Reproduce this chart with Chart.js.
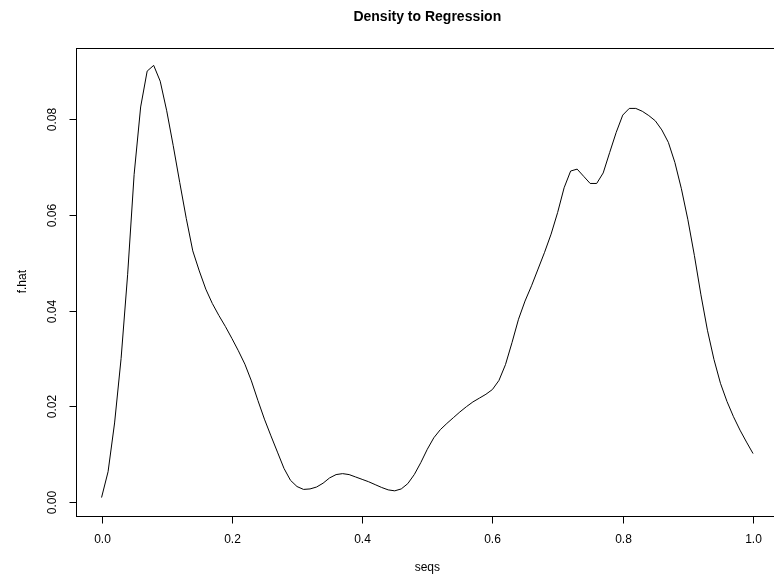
<!DOCTYPE html>
<html>
<head>
<meta charset="utf-8">
<title>Density to Regression</title>
<script src="https://cdn.jsdelivr.net/npm/chart.js@4.4.1/dist/chart.umd.min.js"></script>
<style>
  html, body { margin: 0; padding: 0; background: #fff; overflow: hidden; }
  #wrap { width: 800px; height: 575px; }
</style>
</head>
<body>
<div id="wrap"><canvas id="densityChart" width="800" height="575"></canvas></div>
<script>
const seqs = [
  0.00, 0.01, 0.02, 0.03, 0.04, 0.05, 0.06, 0.07, 0.08, 0.09,
  0.10, 0.11, 0.12, 0.13, 0.14, 0.15, 0.16, 0.17, 0.18, 0.19,
  0.20, 0.21, 0.22, 0.23, 0.24, 0.25, 0.26, 0.27, 0.28, 0.29,
  0.30, 0.31, 0.32, 0.33, 0.34, 0.35, 0.36, 0.37, 0.38, 0.39,
  0.40, 0.41, 0.42, 0.43, 0.44, 0.45, 0.46, 0.47, 0.48, 0.49,
  0.50, 0.51, 0.52, 0.53, 0.54, 0.55, 0.56, 0.57, 0.58, 0.59,
  0.60, 0.61, 0.62, 0.63, 0.64, 0.65, 0.66, 0.67, 0.68, 0.69,
  0.70, 0.71, 0.72, 0.73, 0.74, 0.75, 0.76, 0.77, 0.78, 0.79,
  0.80, 0.81, 0.82, 0.83, 0.84, 0.85, 0.86, 0.87, 0.88, 0.89,
  0.90, 0.91, 0.92, 0.93, 0.94, 0.95, 0.96, 0.97, 0.98, 0.99,
  1.00,
];

const fHat = [
  0.0009, 0.0063, 0.0165, 0.0300, 0.0475, 0.0685, 0.0826, 0.0901, 0.0913, 0.0880,
  0.0818, 0.0745, 0.0668, 0.0593, 0.0525, 0.0483, 0.0445, 0.0415, 0.0390, 0.0367,
  0.0342, 0.0316, 0.0288, 0.0253, 0.0212, 0.0173, 0.0138, 0.0104, 0.0070, 0.0045,
  0.0032, 0.0026, 0.0027, 0.0031, 0.0039, 0.0050, 0.0057, 0.0059, 0.0057, 0.0052,
  0.0047, 0.0042, 0.0036, 0.0030, 0.0025, 0.0023, 0.0027, 0.0038, 0.0057, 0.0082,
  0.0110, 0.0134, 0.0151, 0.0164, 0.0176, 0.0188, 0.0199, 0.0209, 0.0217, 0.0225,
  0.0235, 0.0254, 0.0287, 0.0333, 0.0382, 0.0420, 0.0452, 0.0487, 0.0522, 0.0560,
  0.0605, 0.0657, 0.0692, 0.0696, 0.0681, 0.0666, 0.0666, 0.0688, 0.0731, 0.0773,
  0.0809, 0.0823, 0.0823, 0.0817, 0.0808, 0.0797, 0.0778, 0.0752, 0.0710, 0.0655,
  0.0590, 0.0515, 0.0433, 0.0359, 0.0298, 0.0248, 0.0210, 0.0178, 0.0150, 0.0125,
  0.0101,
];

const xTicks = [0.0, 0.2, 0.4, 0.6, 0.8, 1.0];
const xTickLabels = ["0.0", "0.2", "0.4", "0.6", "0.8", "1.0"];
const yTicks = [0.0, 0.02, 0.04, 0.06, 0.08];
const yTickLabels = ["0.00", "0.02", "0.04", "0.06", "0.08"];

const FONT = '"Liberation Sans", Arial, Helvetica, sans-serif';

// draws the R-style box, axes, tick labels and titles
const baseAxes = {
  id: "baseAxes",
  afterDraw(chart) {
    const ctx = chart.ctx;
    const area = chart.chartArea;
    const xs = chart.scales.x;
    const ys = chart.scales.y;
    const px = (v) => Math.round(v) + 0.5;

    ctx.save();
    ctx.strokeStyle = "#000";
    ctx.fillStyle = "#000";
    ctx.lineWidth = 1;

    // box
    ctx.strokeRect(px(area.left), px(area.top),
      Math.round(area.right - area.left), Math.round(area.bottom - area.top));

    // x axis ticks
    ctx.font = "12px " + FONT;
    ctx.textAlign = "center";
    ctx.textBaseline = "middle";
    xTicks.forEach((t, i) => {
      const x = px(xs.getPixelForValue(t));
      ctx.beginPath();
      ctx.moveTo(x, px(area.bottom));
      ctx.lineTo(x, px(area.bottom) + 7);
      ctx.stroke();
      ctx.fillText(xTickLabels[i], x, area.bottom + 23.5);
    });

    // y axis ticks, labels turned like R's las = 0
    yTicks.forEach((t, i) => {
      const y = px(ys.getPixelForValue(t));
      ctx.beginPath();
      ctx.moveTo(px(area.left), y);
      ctx.lineTo(px(area.left) - 7, y);
      ctx.stroke();
      ctx.save();
      ctx.translate(area.left - 23, y);
      ctx.rotate(-Math.PI / 2);
      ctx.fillText(yTickLabels[i], 0, 0);
      ctx.restore();
    });

    // axis titles
    const midX = (area.left + area.right) / 2;
    const midY = (area.top + area.bottom) / 2;
    ctx.fillText("seqs", midX, 568);
    ctx.save();
    ctx.translate(23, midY);
    ctx.rotate(-Math.PI / 2);
    ctx.fillText("f.hat", 0, 0);
    ctx.restore();

    // main title
    ctx.font = "bold 14px " + FONT;
    ctx.fillText("Density to Regression", midX, 17);
    ctx.restore();
  },
};

function createDensityChart() {
  const ctx = document.getElementById("densityChart").getContext("2d");
  const points = seqs.map((s, i) => ({ x: s, y: fHat[i] }));

  new Chart(ctx, {
    type: "line",
    data: {
      datasets: [
        {
          label: "f.hat",
          data: points,
          borderColor: "#000",
          borderWidth: 1,
          pointRadius: 0,
          tension: 0,
          fill: false,
        },
      ],
    },
    options: {
      responsive: false,
      animation: false,
      events: [],
      layout: {
        padding: { left: 75.5, right: 20.9, top: 47.7, bottom: 59.3 },
      },
      plugins: {
        legend: { display: false },
        tooltip: { enabled: false },
      },
      scales: {
        x: { type: "linear", min: -0.04, max: 1.04, display: false },
        y: { type: "linear", min: -0.0029, max: 0.095, display: false },
      },
    },
    plugins: [baseAxes],
  });
}

document.addEventListener("DOMContentLoaded", createDensityChart);
</script>
</body>
</html>
